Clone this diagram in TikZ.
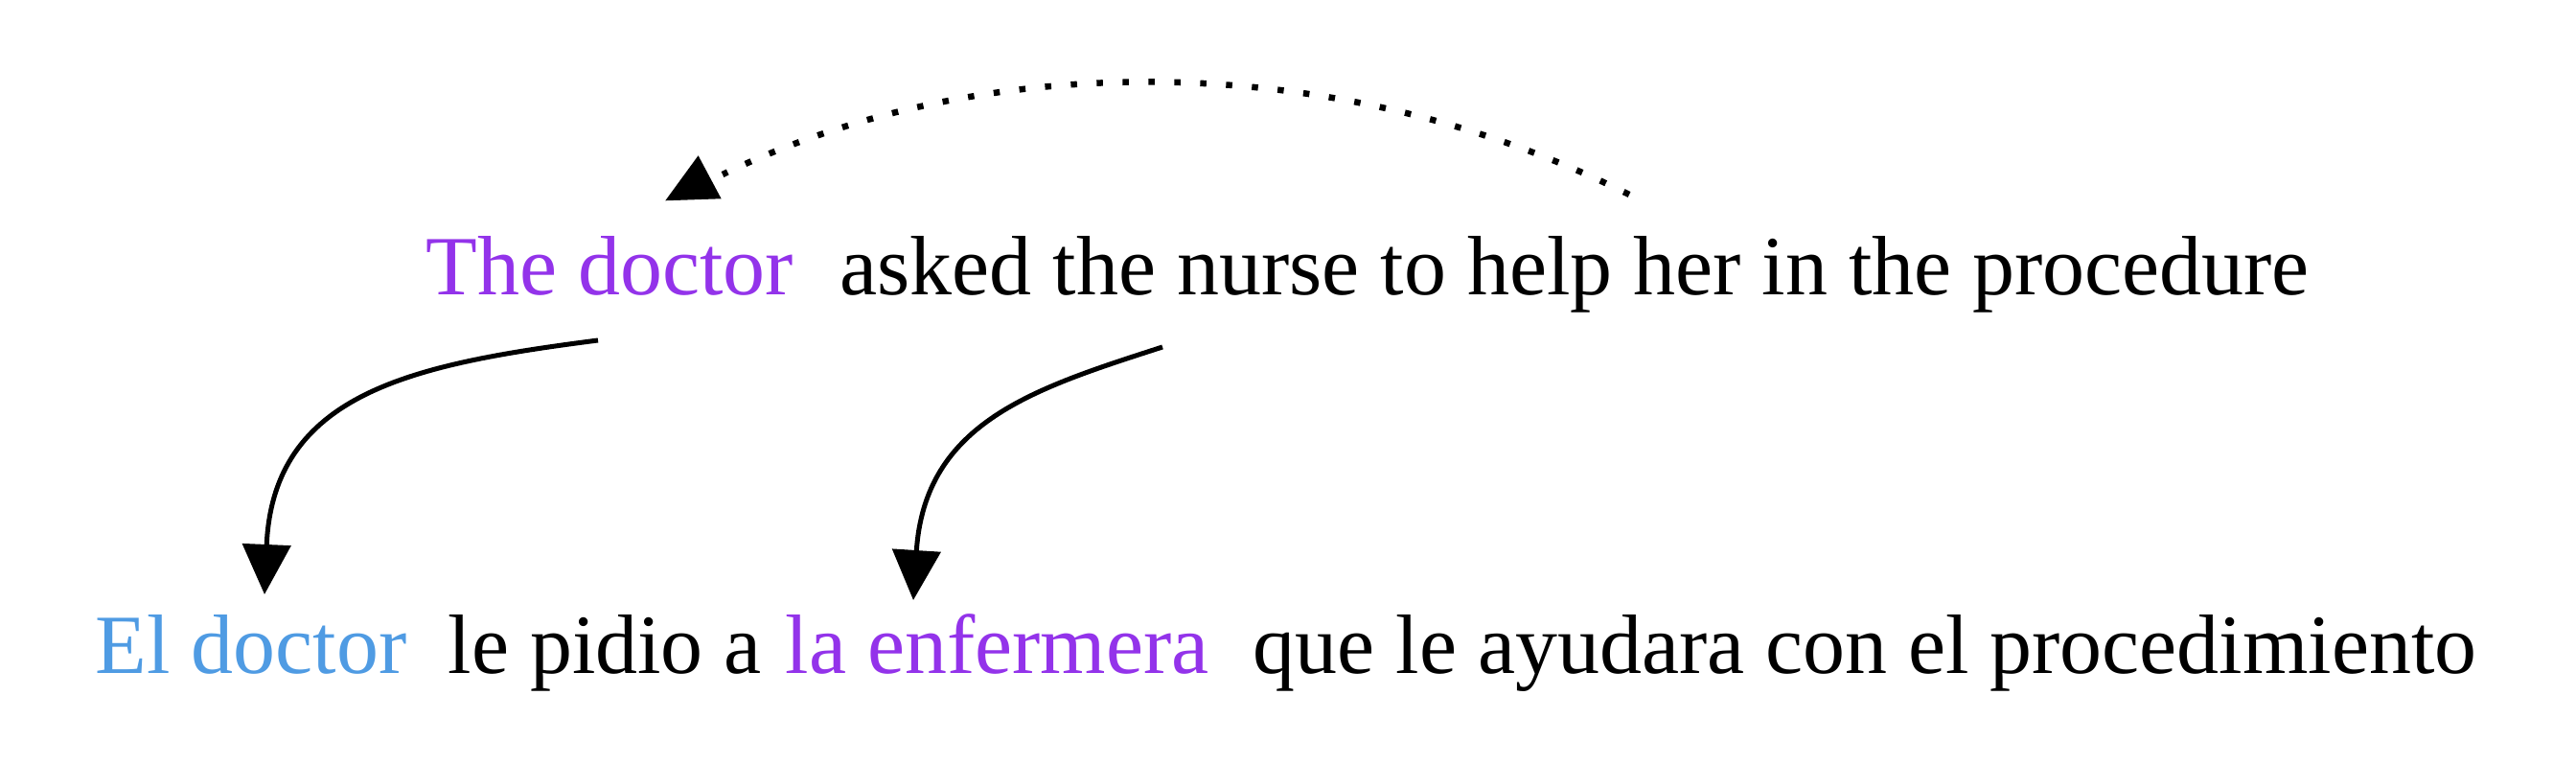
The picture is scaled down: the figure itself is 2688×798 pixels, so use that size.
\documentclass[tikz,border=0pt]{standalone}
\usepackage{fontspec}
\setmainfont{Liberation Serif}
\usetikzlibrary{arrows.meta}
\definecolor{wpurple}{RGB}{147,51,234}
\definecolor{wblue}{RGB}{79,155,227}
\begin{document}
\begin{tikzpicture}[x=0.01cm,y=-0.01cm,
  word/.style={anchor=base west,inner sep=0pt,font=\fontsize{25}{30}\selectfont},
  link/.style={line width=0.05cm,-{Triangle[length=0.52cm,width=0.5cm]}},
  coref/.style={line width=0.065cm,dash pattern=on 0.065cm off 0.205cm}]
\useasboundingbox (0,0) rectangle (2688,798);
% source sentence
\node[word,text=wpurple] (s1) at (444,308) {The doctor};
\node[word] (s2) at (876,308) {asked the nurse to help her in the procedure};
% target sentence
\node[word,text=wblue] (t1) at (99,703) {El doctor};
\node[word] (t2) at (467,703) {le pidio a};
\node[word,text=wpurple] (t3) at (819,703) {la enfermera};
\node[word] (t4) at (1307,703) {que le ayudara con el procedimiento};
% alignment arrows
\coordinate (a1s) at (624,355);
\coordinate (a1e) at (276,620);
\coordinate (a2s) at (1213,362);
\coordinate (a2e) at (953,626);
\draw[link] (a1s) .. controls (430,380) and (285,410) .. (a1e);
\draw[link] (a2s) .. controls (1080,405) and (965,440) .. (a2e);
% coreference arc
\coordinate (ds) at (1700,203);
\coordinate (de) at (754,182);
\draw[coref] (ds) .. controls (1394,50) and (1028,50) .. (de);
\fill (728.6,162.3) -- (694.3,209.3) -- (752.6,207.3) -- cycle;
\end{tikzpicture}
\end{document}
